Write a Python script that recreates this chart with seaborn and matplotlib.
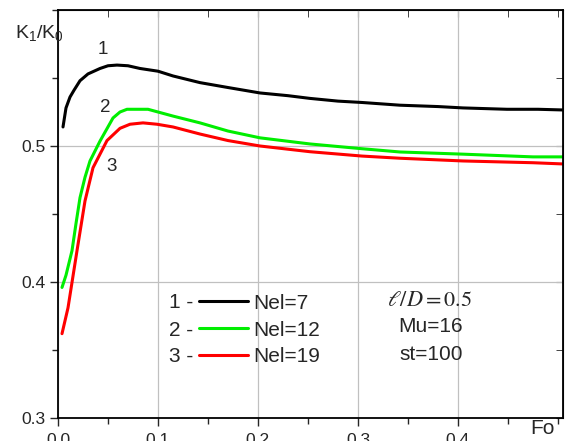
import matplotlib
matplotlib.use("Agg")
import matplotlib.pyplot as plt
import seaborn as sns
import pandas as pd
import numpy as np
from matplotlib.ticker import MultipleLocator

# ---- data ----
fo_1 = [0.005, 0.008, 0.012, 0.016, 0.022, 0.03, 0.042, 0.05, 0.059, 0.07, 0.082, 0.1,
        0.115, 0.142, 0.17, 0.202, 0.23, 0.252, 0.28, 0.304, 0.342, 0.38, 0.405, 0.449, 0.48, 0.505]
k_1 = [0.514, 0.528, 0.536, 0.541, 0.548, 0.553, 0.557, 0.559, 0.5595, 0.559, 0.557, 0.555,
       0.5515, 0.5466, 0.543, 0.539, 0.537, 0.535, 0.533, 0.532, 0.530, 0.529, 0.528, 0.527, 0.527, 0.5265]

fo_2 = [0.004, 0.008, 0.014, 0.018, 0.022, 0.027, 0.032, 0.042, 0.055, 0.062, 0.069, 0.08,
        0.09, 0.1, 0.115, 0.142, 0.17, 0.202, 0.252, 0.304, 0.342, 0.405, 0.475, 0.505]
k_2 = [0.396, 0.405, 0.423, 0.443, 0.462, 0.477, 0.489, 0.5036, 0.5206, 0.525, 0.527, 0.527,
       0.527, 0.525, 0.522, 0.517, 0.511, 0.506, 0.5015, 0.498, 0.4956, 0.494, 0.492, 0.492]

fo_3 = [0.004, 0.01, 0.019, 0.027, 0.035, 0.049, 0.062, 0.072, 0.085, 0.099, 0.115, 0.142,
        0.17, 0.202, 0.252, 0.304, 0.342, 0.405, 0.475, 0.505]
k_3 = [0.362, 0.381, 0.423, 0.4596, 0.484, 0.504, 0.513, 0.516, 0.517, 0.516, 0.514, 0.5088,
       0.504, 0.500, 0.4958, 0.4926, 0.491, 0.489, 0.4877, 0.4868]

series_names = ["Nel=7", "Nel=12", "Nel=19"]
series_nums = ["1", "2", "3"]
colors = ["#000000", "#00ee00", "#ff0000"]

x_ticks = [0.0, 0.1, 0.2, 0.3, 0.4]
y_ticks = [0.3, 0.4, 0.5]

df = pd.concat([
    pd.DataFrame({"Fo": fo_1, "K": k_1, "series": series_names[0]}),
    pd.DataFrame({"Fo": fo_2, "K": k_2, "series": series_names[1]}),
    pd.DataFrame({"Fo": fo_3, "K": k_3, "series": series_names[2]}),
])

sns.set_style("ticks")
plt.rcParams["font.family"] = ["Liberation Sans", "DejaVu Sans"]
plt.rcParams["mathtext.fontset"] = "custom"
plt.rcParams["mathtext.rm"] = "Liberation Sans"
plt.rcParams["mathtext.it"] = "Liberation Sans:italic"

fig = plt.figure(figsize=(5.66, 4.41), dpi=100)
ax = fig.add_axes([58 / 566, 23 / 441, (563 - 58) / 566, (418 - 10) / 441])

sns.lineplot(data=df, x="Fo", y="K", hue="series", palette=colors, ax=ax,
             linewidth=2.2, sort=False, estimator=None)

ax.set_xlim(0.0, 0.505)
ax.set_ylim(0.3, 0.6)
ax.set_xticks(x_ticks)
ax.set_xticklabels([f"{v:.1f}" for v in x_ticks])
ax.set_yticks(y_ticks)
ax.set_yticklabels([f"{v:.1f}" for v in y_ticks])
ax.xaxis.set_minor_locator(MultipleLocator(0.05))
ax.yaxis.set_minor_locator(MultipleLocator(0.05))
ax.tick_params(which="major", direction="out", length=6, width=1, labelsize=12.6,
               top=False, right=False)
ax.tick_params(which="minor", direction="out", length=4, width=1, top=False, right=False)
ax.tick_params(axis="x", pad=5)
ax.tick_params(axis="y", pad=3)

# inward ticks on top/right
ax2 = ax.secondary_xaxis("top")
ax2.set_xticks(x_ticks)
ax2.xaxis.set_minor_locator(MultipleLocator(0.05))
ax2.tick_params(which="both", direction="in", labeltop=False, length=5)
ax3 = ax.secondary_yaxis("right")
ax3.set_yticks(y_ticks)
ax3.yaxis.set_minor_locator(MultipleLocator(0.05))
ax3.tick_params(which="both", direction="in", labelright=False, length=5)

ax.grid(True, which="major", color="#c0c0c0", linewidth=0.9)
for s in ax.spines.values():
    s.set_linewidth(1.3)
    s.set_color("black")

ax.set_xlabel("")
ax.set_ylabel("")
fig.text(15 / 566, 1 - 33 / 441, r"K$_\mathregular{1}$/K$_\mathregular{0}$", fontsize=14,
         ha="left", va="center")
fig.text(530 / 566, 1 - 428 / 441, "Fo", fontsize=15, ha="left", va="center")

# curve numbers
ax.text(0.045, 0.571, "1", fontsize=13.5, ha="center", va="center")
ax.text(0.047, 0.528, "2", fontsize=13.5, ha="center", va="center")
ax.text(0.054, 0.485, "3", fontsize=13.5, ha="center", va="center")

# legend (anchored at the middle row)
leg = ax.legend(loc="center left", bbox_to_anchor=((199 - 58) / 505, (418 - 330) / 408),
                frameon=False, fontsize=15, handlelength=2.35, handletextpad=0.25,
                labelspacing=0.38, borderaxespad=0, borderpad=0)
for line in leg.get_lines():
    line.set_linewidth(2.2)
for i, num in enumerate(series_nums):
    fig.text(193 / 566, 1 - (303 + 27 * i) / 441, f"{num} -", fontsize=15,
             ha="right", va="center")

fig.text(430 / 566, 1 - 300 / 441, r"$\ell/D=0.5$", fontsize=16, ha="center", va="center",
         math_fontfamily="stix")
fig.text(431 / 566, 1 - 327 / 441, "Mu=16", fontsize=15, ha="center", va="center")
fig.text(431 / 566, 1 - 354 / 441, "st=100", fontsize=15, ha="center", va="center")

fig.savefig("out.png", dpi=100)
